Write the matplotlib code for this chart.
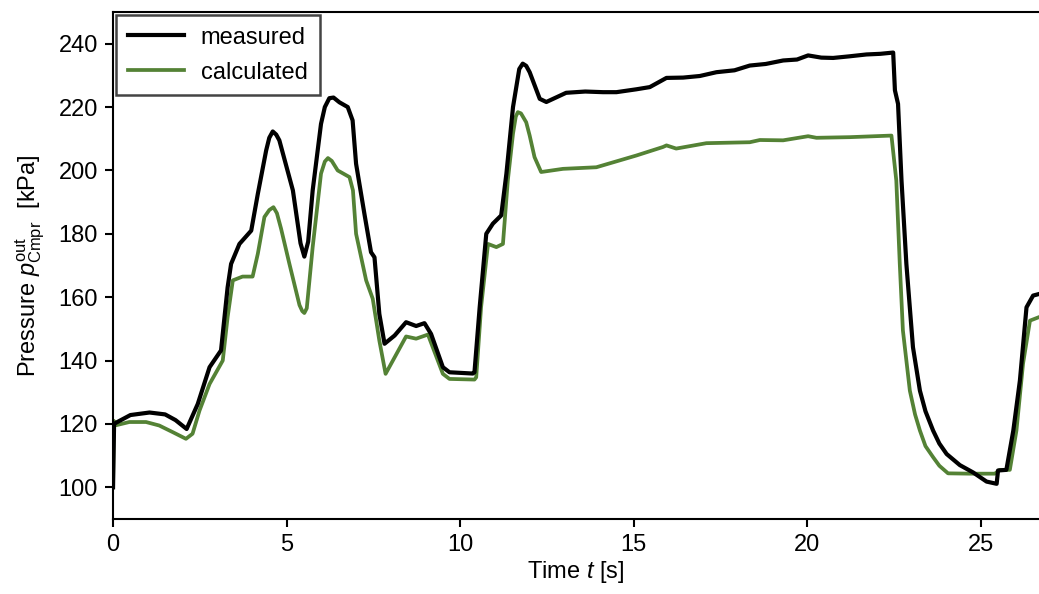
import matplotlib
matplotlib.use("Agg")
import matplotlib.pyplot as plt

plt.rcParams['font.family'] = ['Liberation Sans', 'DejaVu Sans']
plt.rcParams['mathtext.fontset'] = 'custom'
plt.rcParams['mathtext.rm'] = 'Liberation Sans'
plt.rcParams['mathtext.it'] = 'Liberation Sans:italic'

# measured pressure (black)
t_meas = [0.0, 0.03, 0.09, 0.5, 1.05, 1.5, 1.8, 2.12, 2.44, 2.78, 3.11, 3.30, 3.40,
          3.64, 3.98, 4.17, 4.41, 4.50, 4.60, 4.70, 4.79, 5.18, 5.40, 5.51, 5.62, 5.75,
          5.99, 6.10, 6.23, 6.35, 6.52,
          6.76, 6.90, 7.00, 7.24, 7.43, 7.53, 7.67, 7.82, 8.11, 8.44, 8.73, 8.97,
          9.16, 9.50, 9.69, 10.36, 10.41, 10.56, 10.75, 10.94, 11.18, 11.33, 11.52,
          11.70, 11.80, 11.90, 12.00, 12.09, 12.29, 12.48, 13.05, 13.6, 14.11, 14.5,
          15.07, 15.46, 15.94,
          16.42, 16.9, 17.38, 17.9, 18.34, 18.8, 19.3, 19.7, 20.02, 20.4, 20.74, 21.2,
          21.7, 22.1, 22.47, 22.52, 22.61, 22.71, 22.85, 23.04, 23.24, 23.40, 23.62,
          23.80, 24.01, 24.39, 24.77, 25.16, 25.45, 25.49, 25.73, 25.93, 26.12, 26.31,
          26.5, 26.67]
p_meas = [100.0, 120.0, 120.4, 122.8, 123.6, 123.0, 121.2, 118.4, 126.3, 137.9, 143.2,
          163.1, 170.5, 176.8, 181.0, 192.6, 206.3, 210.3, 212.3, 211.3, 209.5, 193.7,
          177.0, 172.8, 177.5, 193.7,
          214.7, 220.0, 222.8, 223.0, 221.5, 220.0, 215.8, 202.1, 186.3, 174.2, 172.6,
          154.7, 145.3,
          147.9, 152.1, 150.9, 151.8, 148.4, 137.9, 136.3, 135.9, 136.3, 156.8, 180.0,
          183.2, 185.8, 199.0, 220.0, 232.0, 233.7, 233.0, 231.0, 228.4, 222.6, 221.6,
          224.5, 224.9, 224.7, 224.7, 225.6, 226.3, 229.2, 229.3, 229.8, 231.0, 231.6,
          233.1, 233.6, 234.7, 235.0, 236.3, 235.6, 235.5, 236.0, 236.6, 236.8, 237.2,
          225.3, 221.0, 196.8, 170.5, 144.2, 130.5, 124.0, 117.9, 113.8, 110.5, 107.0,
          104.7, 101.8, 101.1, 105.3, 105.5, 117.9, 133.7, 156.8, 160.5, 161.0]

# calculated pressure (green)
t_calc = [0.0, 0.02, 0.09, 0.47, 0.95, 1.33, 1.72, 2.10, 2.29, 2.49, 2.78, 3.16, 3.30,
          3.45, 3.73, 4.02, 4.17, 4.36, 4.50, 4.62, 4.72, 4.84, 5.08, 5.37, 5.45, 5.51,
          5.58, 5.75, 5.99, 6.10, 6.19, 6.30, 6.47, 6.81, 6.91, 7.00, 7.29, 7.48, 7.67,
          7.85, 8.06, 8.44, 8.73, 9.07, 9.50, 9.69, 10.41, 10.46, 10.60, 10.80, 11.04,
          11.23, 11.37, 11.52, 11.60, 11.66, 11.75, 11.90, 12.00, 12.14, 12.33, 12.96,
          13.92, 15.07, 15.84, 15.94, 16.22, 17.09, 18.34, 18.63, 19.30, 20.02, 20.26,
          21.22, 22.42, 22.56, 22.66, 22.75, 22.95, 23.10, 23.24, 23.40, 23.62, 23.80,
          24.05, 24.68, 25.40, 25.54, 25.83, 26.02, 26.21, 26.41, 26.67]
p_calc = [100.0, 121.0, 119.6, 120.6, 120.6, 119.5, 117.4, 115.3, 116.9, 124.2, 132.6,
          140.0, 153.7, 165.3, 166.5, 166.5, 173.7, 185.3, 187.5, 188.4, 186.5, 181.6,
          170.5, 157.5, 155.6, 155.0, 156.5, 175.8, 199.0, 202.8, 203.9, 203.0, 200.0,
          197.9, 193.7, 180.0, 165.3, 159.5, 146.3, 135.8, 140.0, 147.6, 146.9, 148.2,
          135.8, 134.2, 134.0, 134.7, 156.8, 176.8, 175.8, 176.8, 196.8, 211.6, 217.0,
          218.4, 218.0, 215.2, 211.0, 204.2, 199.5, 200.5, 201.0, 204.7, 207.4, 207.9,
          206.9, 208.6, 208.9, 209.6, 209.5, 210.8, 210.3, 210.5, 211.0, 196.8, 170.5,
          149.5, 130.5, 123.0, 117.9, 113.0, 109.5, 106.8, 104.4, 104.3, 104.3, 105.5,
          105.5, 117.9, 139.0, 152.6, 153.7]

x_ticks = [0, 5, 10, 15, 20, 25]
y_ticks = [100, 120, 140, 160, 180, 200, 220, 240]

FS = 17

fig = plt.figure(figsize=(10.39, 5.94), dpi=100)
ax = fig.add_axes([0.1088, 0.1263, 0.8912, 0.8535])

ax.plot(t_meas, p_meas, color='black', lw=3.0, label='measured', zorder=3,
        solid_joinstyle='round')
ax.plot(t_calc, p_calc, color='#548235', lw=2.7, label='calculated', zorder=2,
        solid_joinstyle='round')

ax.set_xlim(0, 26.67)
ax.set_ylim(90, 250)
ax.set_xticks(x_ticks)
ax.set_yticks(y_ticks)
ax.tick_params(direction='out', length=6, width=1.5, labelsize=FS, pad=5)
for s in ['left', 'bottom', 'top']:
    ax.spines[s].set_linewidth(1.5)
ax.spines['right'].set_visible(False)

ax.set_xlabel('Time $t$ [s]', fontsize=FS, labelpad=2)
ax.set_ylabel(r'Pressure $p^{\mathrm{out}}_{\mathrm{Cmpr}}$  [kPa]', fontsize=FS, labelpad=8)

leg = ax.legend(loc='upper left', bbox_to_anchor=(0.0, 1.0), borderaxespad=0.12,
                fontsize=FS, fancybox=False, framealpha=1, edgecolor='#444444',
                handlelength=2.4, handletextpad=0.7, borderpad=0.5, labelspacing=0.55)
leg.get_frame().set_linewidth(1.8)
leg.set_zorder(5)

fig.savefig('out.png', dpi=100)
